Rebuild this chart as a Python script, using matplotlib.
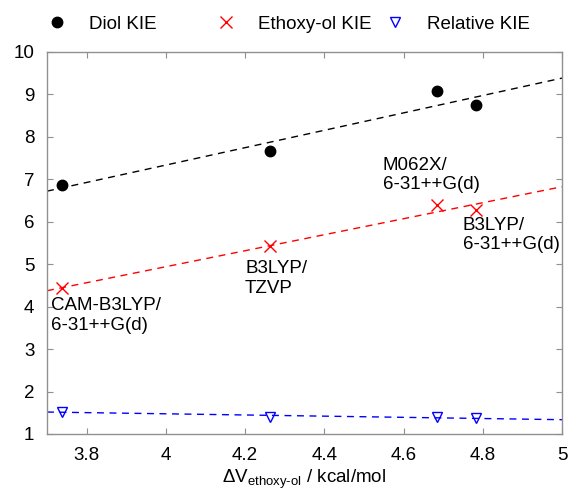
import numpy as np
import matplotlib
matplotlib.use('Agg')
import matplotlib.pyplot as plt

plt.rcParams['font.family'] = ['Liberation Sans', 'DejaVu Sans']
plt.rcParams['mathtext.fontset'] = 'custom'
plt.rcParams['mathtext.rm'] = 'Liberation Sans'
plt.rcParams['font.size'] = 13.5

# ==================== 数据 ====================
dv = [3.738, 4.263, 4.684, 4.782]
diol_kie = [6.87, 7.67, 9.07, 8.74]
ethoxy_kie = [4.44, 5.42, 6.40, 6.27]
relative_kie = [1.53, 1.40, 1.40, 1.37]

methods = ['CAM-B3LYP/\n6-31++G(d)', 'B3LYP/\nTZVP', 'M062X/\n6-31++G(d)', 'B3LYP/\n6-31++G(d)']
label_pos = [(3.71, 4.23), (4.2, 5.10), (4.548, 7.53), (4.75, 6.12)]

xticks = [3.8, 4.0, 4.2, 4.4, 4.6, 4.8, 5.0]
xtick_labels = ['3.8', '4', '4.2', '4.4', '4.6', '4.8', '5']
yticks = list(range(1, 11))

# ==================== 绘图 ====================
fig = plt.figure(figsize=(5.74, 4.92), dpi=100)
ax = fig.add_axes([47 / 574, 1 - 434 / 492, (562 - 47) / 574, (434 - 52) / 492])

xx = np.array([3.7, 5.0])
for y, c in [(diol_kie, 'black'), (ethoxy_kie, 'red'), (relative_kie, 'blue')]:
    k, b = np.polyfit(dv, y, 1)
    ax.plot(xx, k * xx + b, color=c, linestyle=(0, (5, 4)), linewidth=1.0, zorder=1)

h1, = ax.plot(dv, diol_kie, 'o', color='black', markersize=7.5, label='Diol KIE', zorder=3)
h2, = ax.plot(dv, ethoxy_kie, 'x', color='red', markersize=8.5, markeredgewidth=1.0,
              label='Ethoxy-ol KIE', zorder=3)
h3, = ax.plot(dv, relative_kie, 'v', color='blue', markerfacecolor='none', markersize=7,
              markeredgewidth=1.0, label='Relative KIE', zorder=3)

for txt, (tx, ty) in zip(methods, label_pos):
    ax.text(tx, ty, txt, ha='left', va='top', linespacing=1.2)

ax.set_xlim(3.7, 5.0)
ax.set_ylim(1, 10)
ax.set_xticks(xticks)
ax.set_xticklabels(xtick_labels)
ax.set_yticks(yticks)
ax.tick_params(direction='in', top=True, right=True, length=4, color='#909090',
               labelsize=13.5, pad=9)
for s in ax.spines.values():
    s.set_color('#909090')
    s.set_linewidth(1.0)

ax.set_xlabel('ΔV$_{\\mathregular{ethoxy\u2010ol}}$ / kcal/mol', labelpad=3)

# 图例：gnuplot风格，等宽分列
for h, px in zip([h1, h2, h3], [57, 226, 395]):
    fig.legend(handles=[h], loc='center left', bbox_to_anchor=((px - 19) / 574, 1 - 24 / 492),
               frameon=False, handlelength=2.0, handletextpad=0.7, borderpad=0,
               borderaxespad=0, numpoints=1)

plt.savefig('out.png', dpi=100)
